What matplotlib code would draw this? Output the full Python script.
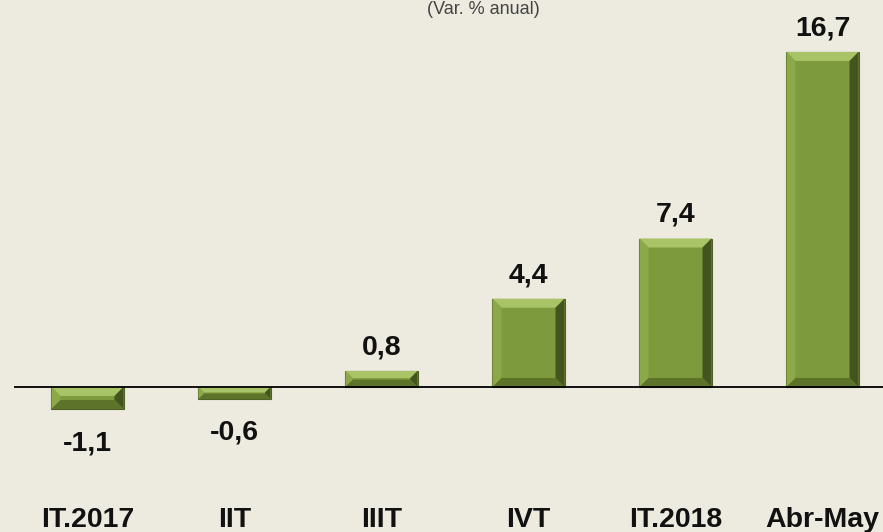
import matplotlib.pyplot as plt
from matplotlib.patches import Polygon

categorias = ["IT.2017", "IIT", "IIIT", "IVT", "IT.2018", "Abr-May"]
valores = [-1.1, -0.6, 0.8, 4.4, 7.4, 16.7]
etiquetas = ["-1,1", "-0,6", "0,8", "4,4", "7,4", "16,7"]

fondo = "#EDEBE0"
verde = "#7D9A3C"

fig = plt.figure(figsize=(8.83, 5.32), dpi=100, facecolor=fondo)
ax = fig.add_axes([14 / 883, 0, 882 / 883, 1])
ax.set_facecolor(fondo)
ax.set_xlim(-0.5, 5.5)
ax.set_ylim(-7.23, 19.29)
ax.axis("off")

ancho = 0.49
bars = ax.bar(range(len(valores)), valores, width=ancho, color=verde,
              edgecolor="#4F6224", linewidth=0.8, zorder=2)

# bisel de ~9 px, pasado a unidades de datos
ux = 6.0 / 882      # datos por pixel en x
uy = 26.52 / 532    # datos por pixel en y
for b, v in zip(bars, valores):
    x0, x1 = b.get_x(), b.get_x() + b.get_width()
    y0, y1 = min(0, v), max(0, v)
    by = min(9 * uy, (y1 - y0) / 2.2)
    bx = 9 * ux * (by / (9 * uy))
    caras = [
        ([(x0, y1), (x1, y1), (x1 - bx, y1 - by), (x0 + bx, y1 - by)], "#A9C466"),
        ([(x0, y0), (x0, y1), (x0 + bx, y1 - by), (x0 + bx, y0 + by)], "#8BA948"),
        ([(x1, y0), (x1, y1), (x1 - bx, y1 - by), (x1 - bx, y0 + by)], "#435420"),
        ([(x0, y0), (x1, y0), (x1 - bx, y0 + by), (x0 + bx, y0 + by)], "#5C7329"),
    ]
    for pts, c in caras:
        ax.add_patch(Polygon(pts, closed=True, facecolor=c, edgecolor="none", zorder=3))

ax.axhline(0, color="black", linewidth=1.3, zorder=4)

for i, (v, t) in enumerate(zip(valores, etiquetas)):
    off = 12 if v > 0 else -29.5
    ax.annotate(t, (i, v), xytext=(0, off), textcoords="offset points",
                ha="center", va="baseline", fontsize=20.5, fontweight="bold",
                family="Liberation Sans", color="#111111")

for i, c in enumerate(categorias):
    ax.text(i, 5 / 532, c, transform=ax.get_xaxis_transform(), ha="center",
            va="baseline", fontsize=20.5, fontweight="bold",
            family="Liberation Sans", color="#111111")

fig.text(483 / 883, 1 - 1 / 532, "(Var. % anual)", ha="center", va="top",
         fontsize=13, family="Liberation Sans", color="#444444")

fig.savefig("out.png", dpi=100, facecolor=fondo)
